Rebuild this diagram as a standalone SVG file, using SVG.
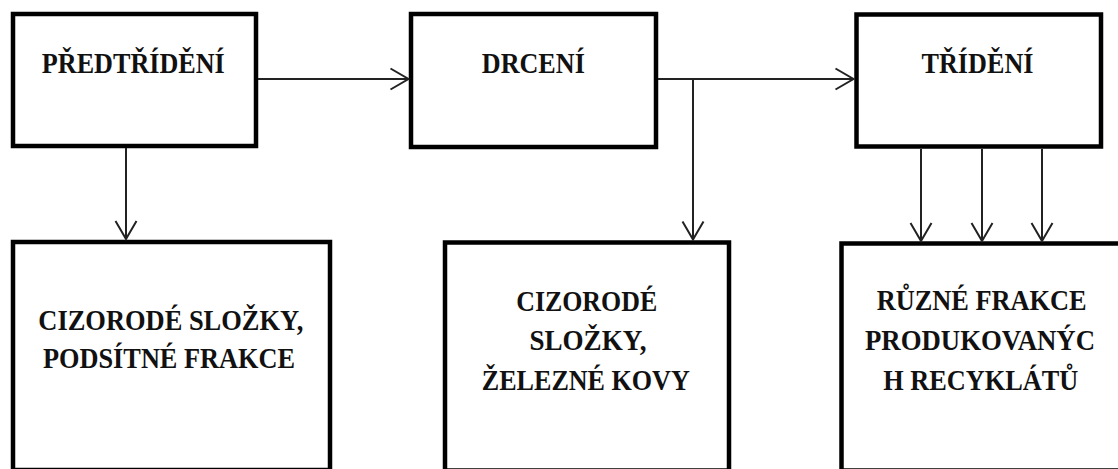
<svg xmlns="http://www.w3.org/2000/svg" width="1118" height="469" viewBox="0 0 1118 469">
<style>
.box{fill:#fff;stroke:#000;stroke-width:4.5}
.lbl{font-family:"Liberation Serif","Times New Roman",serif;font-weight:bold;font-size:28.5px;fill:#111;text-anchor:middle}
.con{fill:none;stroke:#222;stroke-width:2}
</style>
<defs>
<marker id="arr" markerUnits="userSpaceOnUse" viewBox="-20 -12 22 24" refX="0" refY="0" markerWidth="22" markerHeight="24" orient="auto">
<path d="M-18,-10.5 L0,0 L-18,10.5" fill="none" stroke="#222" stroke-width="2"/>
</marker>
</defs>
<rect width="1118" height="469" fill="#fff"/>
<g id="predtrideni">
<rect class="box" x="13" y="14" width="243" height="132"/>
<text class="lbl" x="133.3" y="73" textLength="183" lengthAdjust="spacingAndGlyphs">PŘEDTŘÍDĚNÍ</text>
</g>
<g id="drceni">
<rect class="box" x="411" y="14" width="245" height="133"/>
<text class="lbl" x="533.3" y="73" textLength="103" lengthAdjust="spacingAndGlyphs">DRCENÍ</text>
</g>
<g id="trideni">
<rect class="box" x="856.5" y="14.5" width="244.5" height="132"/>
<text class="lbl" x="977.5" y="73" textLength="112" lengthAdjust="spacingAndGlyphs">TŘÍDĚNÍ</text>
</g>
<g id="cizorode1">
<rect class="box" x="13" y="242" width="317" height="228"/>
<text class="lbl" x="170.8" y="330" textLength="265" lengthAdjust="spacingAndGlyphs">CIZORODÉ SLOŽKY,</text>
<text class="lbl" x="169" y="368" textLength="252" lengthAdjust="spacingAndGlyphs">PODSÍTNÉ FRAKCE</text>
</g>
<g id="cizorode2">
<rect class="box" x="445" y="242.5" width="284" height="228"/>
<text class="lbl" x="586.7" y="311" textLength="141" lengthAdjust="spacingAndGlyphs">CIZORODÉ</text>
<text class="lbl" x="588" y="350" textLength="117" lengthAdjust="spacingAndGlyphs">SLOŽKY,</text>
<text class="lbl" x="585.8" y="390" textLength="208" lengthAdjust="spacingAndGlyphs">ŽELEZNÉ KOVY</text>
</g>
<g id="frakce">
<rect class="box" x="841.5" y="243.5" width="300" height="227"/>
<text class="lbl" x="981.7" y="310" textLength="210" lengthAdjust="spacingAndGlyphs">RŮZNÉ FRAKCE</text>
<text class="lbl" x="980" y="350" textLength="230" lengthAdjust="spacingAndGlyphs">PRODUKOVANÝC</text>
<text class="lbl" x="980.8" y="390" textLength="195" lengthAdjust="spacingAndGlyphs">H RECYKLÁTŮ</text>
</g>
<g id="connectors">
<line class="con" x1="258" y1="79" x2="408.5" y2="79" marker-end="url(#arr)"/>
<line class="con" x1="658" y1="79" x2="853.5" y2="79" marker-end="url(#arr)"/>
<line class="con" x1="693" y1="79" x2="693" y2="239.5" marker-end="url(#arr)"/>
<line class="con" x1="126" y1="148" x2="126" y2="239" marker-end="url(#arr)"/>
<line class="con" x1="921" y1="149" x2="921" y2="241" marker-end="url(#arr)"/>
<line class="con" x1="982" y1="149" x2="982" y2="241" marker-end="url(#arr)"/>
<line class="con" x1="1042" y1="149" x2="1042" y2="241" marker-end="url(#arr)"/>
</g>
</svg>
